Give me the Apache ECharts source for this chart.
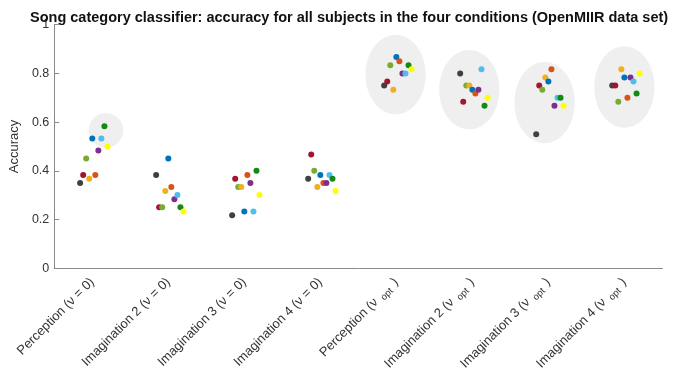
<!DOCTYPE html>
<html>
<head>
<meta charset="utf-8">
<script src="https://cdn.jsdelivr.net/npm/echarts@6/dist/echarts.min.js"></script>
<style>html,body{margin:0;padding:0;background:#fff}#c{width:674px;height:374px}</style>
</head>
<body>
<div id="c"></div>
<script>
// Conditions (x categories)
const categories = [
  'Perception (ν = 0)', 'Imagination 2 (ν = 0)', 'Imagination 3 (ν = 0)', 'Imagination 4 (ν = 0)',
  'Perception (ν_opt)', 'Imagination 2 (ν_opt)', 'Imagination 3 (ν_opt)', 'Imagination 4 (ν_opt)'
];
// Subject colours and horizontal jitter offsets (subjects 1..10)
const subjectColors = ['#404040', '#A2142F', '#77AC30', '#EDB120', '#0072BD',
                       '#D95319', '#7E2F8E', '#4DBEEE', '#138A13', '#FFFF00'];
const subjectOffsets = [-0.16, -0.12, -0.08, -0.04, 0, 0.04, 0.08, 0.12, 0.16, 0.20];

// Accuracy per condition, for subjects 1..10
const percNu0  = [0.350, 0.383, 0.450, 0.367, 0.533, 0.383, 0.483, 0.533, 0.583, 0.500];
const imag2Nu0 = [0.383, 0.250, 0.250, 0.317, 0.450, 0.333, 0.283, 0.300, 0.250, 0.233];
const imag3Nu0 = [0.217, 0.367, 0.333, 0.333, 0.233, 0.383, 0.350, 0.233, 0.400, 0.300];
const imag4Nu0 = [0.367, 0.467, 0.400, 0.333, 0.383, 0.350, 0.350, 0.383, 0.367, 0.317];
const percOpt  = [0.750, 0.767, 0.833, 0.733, 0.867, 0.850, 0.800, 0.800, 0.833, 0.817];
const imag2Opt = [0.800, 0.683, 0.750, 0.750, 0.733, 0.717, 0.733, 0.817, 0.667, 0.700];
const imag3Opt = [0.550, 0.750, 0.733, 0.783, 0.767, 0.817, 0.667, 0.700, 0.700, 0.667];
const imag4Opt = [0.750, 0.750, 0.683, 0.817, 0.783, 0.700, 0.783, 0.767, 0.717, 0.800];
const conditions = [percNu0, imag2Nu0, imag3Nu0, imag4Nu0, percOpt, imag2Opt, imag3Opt, imag4Opt];

// Shaded ellipses (data units)
const ellipseCx = [1.18, 4.99, 5.96, 6.95, 8.00];
const ellipseCy = [0.566, 0.795, 0.733, 0.680, 0.744];
const ellipseRx = [0.227, 0.396, 0.396, 0.396, 0.396];
const ellipseRy = [0.071, 0.163, 0.163, 0.167, 0.167];

const yTicks = [0, 0.2, 0.4, 0.6, 0.8, 1];

const FONT = 'Liberation Sans, Arial, sans-serif';
const chart = echarts.init(document.getElementById('c'), null, {renderer: 'canvas'});

const scatterSeries = subjectColors.map((col, s) => ({
  type: 'scatter',
  xAxisIndex: 1,
  yAxisIndex: 0,
  symbol: 'circle',
  symbolSize: 6,
  z: 5,
  itemStyle: {color: col, opacity: 1},
  data: conditions.map((arr, c) => [c + 1 + subjectOffsets[s], arr[s]])
}));

const ellipseSeries = {
  type: 'custom',
  xAxisIndex: 1,
  yAxisIndex: 0,
  z: 1,
  silent: true,
  clip: false,
  data: ellipseCx.map((cx, i) => [cx, ellipseCy[i], ellipseRx[i], ellipseRy[i]]),
  encode: {x: 0, y: 1},
  renderItem: function (params, api) {
    const cx = api.value(0), cy = api.value(1), rx = api.value(2), ry = api.value(3);
    const pts = [];
    for (let k = 0; k < 72; k++) {
      const t = k / 72 * Math.PI * 2;
      pts.push(api.coord([cx + rx * Math.cos(t), cy + ry * Math.sin(t)]));
    }
    return {type: 'polygon', shape: {points: pts}, style: {fill: '#efefef', stroke: null}};
  }
};

chart.setOption({
  animation: false,
  backgroundColor: '#ffffff',
  title: {
    text: 'Song category classifier: accuracy for all subjects in the four conditions (OpenMIIR data set)',
    left: 25, top: 5,
    textStyle: {fontFamily: FONT, fontSize: 14.5, fontWeight: 'bold', color: '#111'}
  },
  grid: {left: 48.6, right: 11.6, top: 24.7, bottom: 104.3, containLabel: false},
  xAxis: [
    {
      type: 'category',
      data: categories,
      boundaryGap: true,
      position: 'bottom',
      axisLine: {lineStyle: {color: '#8a8a8a', width: 1}},
      axisTick: {inside: true, alignWithLabel: true, length: 5, lineStyle: {color: '#8a8a8a'}},
      splitLine: {show: false},
      axisLabel: {
        interval: 0, rotate: 45, margin: 12,
        fontFamily: FONT, fontSize: 13, color: '#333',
        formatter: function (v) {
          const i = v.indexOf('_opt');
          if (i >= 0) {
            return '{a|' + v.slice(0, i) + ' }{s|opt}{a| )}';
          }
          return '{a|' + v + '}';
        },
        rich: {
          a: {fontFamily: FONT, fontSize: 13, color: '#333', lineHeight: 15},
          s: {fontFamily: FONT, fontSize: 9.5, color: '#333', padding: [7, 2, 0, 2], lineHeight: 10}
        }
      }
    },
    {
      type: 'value', min: 0.5, max: 8.5, show: false
    }
  ],
  yAxis: {
    type: 'value',
    min: 0, max: 1, interval: 0.2,
    name: 'Accuracy',
    nameLocation: 'middle',
    nameGap: 23,
    nameRotate: 90,
    nameTextStyle: {fontFamily: FONT, fontSize: 13, color: '#333'},
    axisLine: {show: true, lineStyle: {color: '#8a8a8a', width: 1}},
    axisTick: {show: true, inside: true, length: 5, lineStyle: {color: '#8a8a8a'}},
    splitLine: {show: false},
    axisLabel: {
      fontFamily: FONT, fontSize: 12.5, color: '#333', margin: 5,
      customValues: yTicks,
      formatter: v => (v === 0 || v === 1) ? String(v) : v.toFixed(1)
    }
  },
  series: [ellipseSeries].concat(scatterSeries)
});
</script>
</body>
</html>
